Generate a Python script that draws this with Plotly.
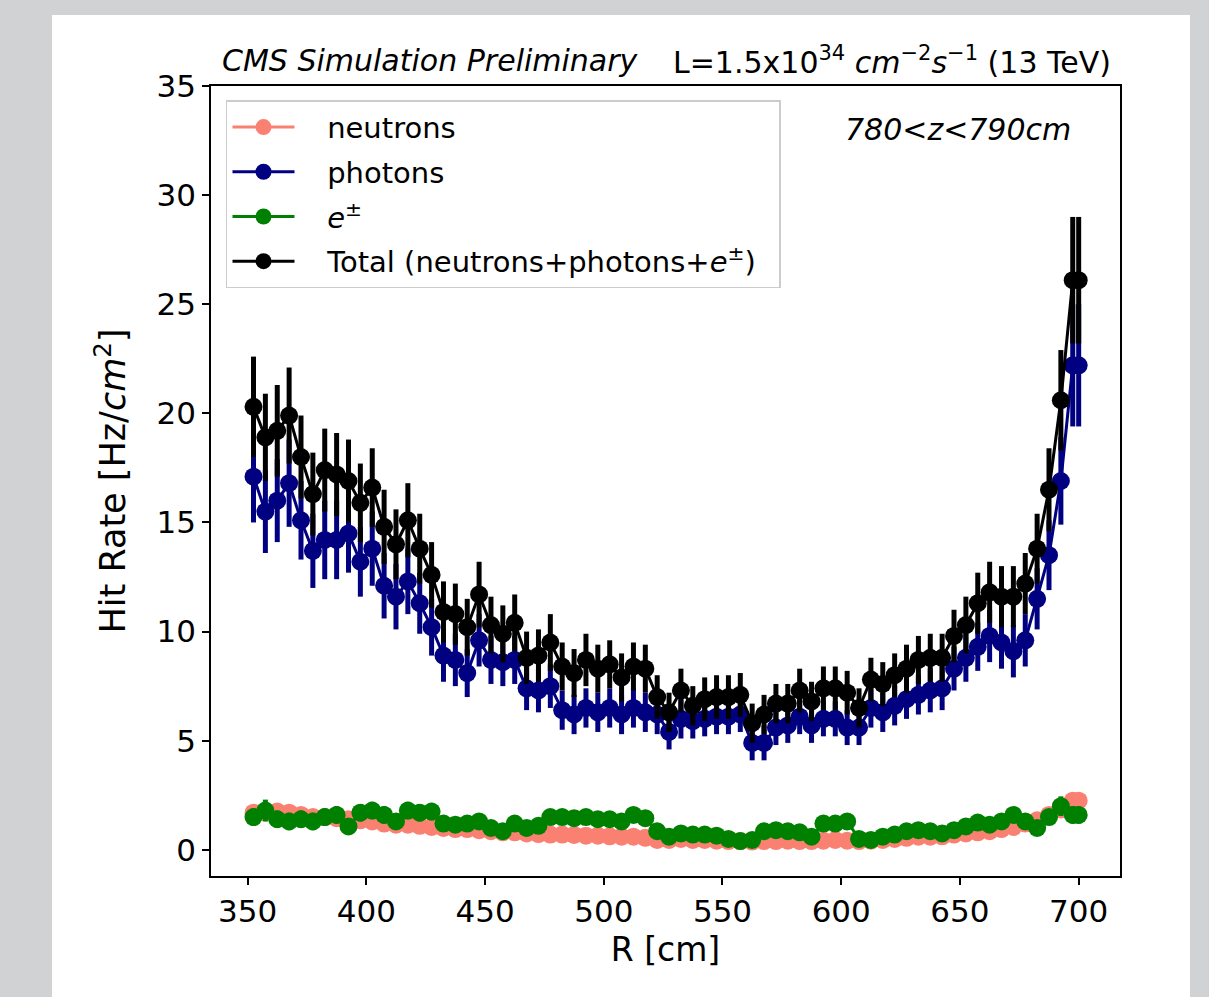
import plotly.graph_objects as go

# ---------------- data ----------------
R = [352.5 + 5 * i for i in range(70)] + [700.0]

neutrons = [1.7, 1.7, 1.75, 1.7, 1.6, 1.5, 1.5, 1.45, 1.4, 1.35,
            1.3, 1.2, 1.15, 1.15, 1.1, 1.05, 1.0, 0.95, 0.95, 0.9,
            0.85, 0.8, 0.8, 0.75, 0.72, 0.7, 0.7, 0.68, 0.65, 0.65,
            0.62, 0.6, 0.6, 0.55, 0.45, 0.45, 0.5, 0.45, 0.45, 0.42,
            0.4, 0.4, 0.38, 0.4, 0.4, 0.42, 0.4, 0.4, 0.42, 0.45,
            0.42, 0.4, 0.42, 0.45, 0.5, 0.55, 0.6, 0.6, 0.62, 0.7,
            0.75, 0.8, 0.85, 0.95, 1.05, 1.2, 1.35, 1.6, 1.85, 2.25,
            2.25]
neutrons_err = [0.15] * 71

photons = [17.1, 15.5, 16.0, 16.8, 15.1, 13.7, 14.2, 14.2, 14.5, 13.2,
           13.8, 12.1, 11.6, 12.3, 11.3, 10.2, 8.9, 8.7, 8.1, 9.6,
           8.7, 8.6, 8.7, 7.4, 7.3, 7.5, 6.4, 6.2, 6.5, 6.3,
           6.5, 6.2, 6.5, 6.3, 6.2, 5.4, 6.0, 5.9, 6.0, 6.1,
           6.1, 6.2, 4.9, 4.9, 5.6, 5.7, 6.1, 5.7, 6.0, 6.0,
           5.6, 5.6, 6.5, 6.3, 6.6, 6.9, 7.1, 7.3, 7.4, 8.3,
           8.8, 9.3, 9.8, 9.5, 9.1, 9.6, 11.5, 13.5, 16.9, 22.2,
           22.2]
photons_err = [2.1, 1.9, 1.9, 2.0, 1.8, 1.7, 1.8, 1.8, 1.8, 1.6,
               1.7, 1.5, 1.5, 1.5, 1.4, 1.3, 1.2, 1.2, 1.1, 1.2,
               1.1, 1.1, 1.1, 1.0, 1.0, 1.0, 0.9, 0.9, 0.9, 0.9,
               0.9, 0.9, 0.9, 0.9, 0.9, 0.8, 0.9, 0.8, 0.8, 0.8,
               0.8, 0.8, 0.8, 0.8, 0.8, 0.8, 0.8, 0.8, 0.8, 0.8,
               0.8, 0.8, 0.9, 0.9, 0.9, 0.9, 0.9, 1.0, 1.0, 1.0,
               1.1, 1.1, 1.2, 1.2, 1.2, 1.2, 1.4, 1.6, 2.0, 2.8,
               2.8]

electrons = [1.5, 1.8, 1.4, 1.3, 1.4, 1.3, 1.5, 1.6, 1.07, 1.7,
             1.8, 1.6, 1.3, 1.8, 1.7, 1.75, 1.2, 1.15, 1.2, 1.3,
             1.0, 0.85, 1.2, 1.0, 1.1, 1.5, 1.5, 1.45, 1.5, 1.4,
             1.4, 1.3, 1.6, 1.45, 0.85, 0.6, 0.75, 0.7, 0.7, 0.65,
             0.5, 0.4, 0.45, 0.85, 0.9, 0.85, 0.8, 0.6, 1.2, 1.2,
             1.3, 0.5, 0.45, 0.6, 0.7, 0.85, 0.9, 0.85, 0.75, 0.9,
             1.07, 1.25, 1.15, 1.3, 1.6, 1.3, 1.0, 1.5, 2.0, 1.6,
             1.6]
electrons_err = [0.4, 0.5, 0.4, 0.4, 0.4, 0.4, 0.4, 0.4, 0.35, 0.4,
                 0.4, 0.4, 0.35, 0.4, 0.4, 0.4, 0.35, 0.35, 0.35, 0.35,
                 0.3, 0.3, 0.35, 0.3, 0.3, 0.35, 0.35, 0.35, 0.35, 0.35,
                 0.35, 0.35, 0.35, 0.35, 0.3, 0.25, 0.25, 0.25, 0.25, 0.25,
                 0.25, 0.2, 0.2, 0.25, 0.25, 0.25, 0.25, 0.25, 0.3, 0.3,
                 0.3, 0.2, 0.2, 0.25, 0.25, 0.25, 0.25, 0.25, 0.25, 0.25,
                 0.3, 0.3, 0.3, 0.3, 0.35, 0.3, 0.3, 0.35, 0.45, 0.4,
                 0.4]

total = [20.3, 18.9, 19.2, 19.9, 18.0, 16.3, 17.4, 17.2, 16.9, 15.9,
         16.6, 14.8, 14.0, 15.1, 13.8, 12.6, 10.9, 10.8, 10.2, 11.7,
         10.3, 9.9, 10.4, 8.8, 8.9, 9.5, 8.4, 8.1, 8.7, 8.3,
         8.5, 7.9, 8.4, 8.3, 7.0, 6.3, 7.3, 6.6, 6.9, 7.0,
         7.0, 7.1, 5.8, 6.2, 6.7, 6.7, 7.3, 6.8, 7.4, 7.4,
         7.2, 6.5, 7.8, 7.6, 8.0, 8.3, 8.7, 8.8, 8.8, 9.8,
         10.3, 11.3, 11.8, 11.6, 11.6, 12.2, 13.8, 16.5, 20.6, 26.1,
         26.1]
total_err = [2.3, 2.0, 2.1, 2.2, 1.9, 1.9, 1.9, 1.9, 1.9, 1.8,
             1.8, 1.7, 1.6, 1.7, 1.6, 1.5, 1.4, 1.4, 1.3, 1.5,
             1.3, 1.3, 1.3, 1.2, 1.2, 1.3, 1.1, 1.1, 1.2, 1.1,
             1.1, 1.1, 1.1, 1.1, 1.0, 0.9, 1.0, 0.9, 1.0, 1.0,
             1.0, 1.0, 0.9, 0.9, 0.9, 0.9, 1.0, 0.9, 1.0, 1.0,
             1.0, 0.9, 1.0, 1.0, 1.0, 1.1, 1.1, 1.1, 1.1, 1.2,
             1.3, 1.4, 1.4, 1.4, 1.4, 1.4, 1.6, 1.9, 2.3, 2.9,
             2.9]

x_ticks = [350, 400, 450, 500, 550, 600, 650, 700]
y_ticks = [0, 5, 10, 15, 20, 25, 30, 35]

# ---------------- figure ----------------
FONT = "DejaVu Sans"
PAD = "\u00a0\u00a0\u00a0"
series = [
    ("neutrons", neutrons, neutrons_err, "#fa8072"),
    ("photons", photons, photons_err, "#000080"),
    ("<i>e</i><sup>±</sup>", electrons, electrons_err, "#008000"),
    ("Total (neutrons+photons+<i>e</i><sup>±</sup>)\u00a0\u00a0", total, total_err, "#000000"),
]

fig = go.Figure()
for k, (name, vals, errs, col) in enumerate(series):
    fig.add_trace(go.Scatter(
        x=R, y=vals, name=PAD + name, mode="lines+markers",
        legendgroup="g%d" % k,
        line=dict(color=col, width=3),
        marker=dict(color=col, size=18, line=dict(width=0)),
        error_y=dict(type="data", array=errs, visible=True,
                     color=col, thickness=5, width=0),
    ))

axis_common = dict(
    showline=True, linecolor="black", linewidth=1.5, mirror=True,
    ticks="outside", ticklen=7, tickwidth=1.5, tickcolor="black",
    showgrid=False, zeroline=False,
    tickfont=dict(family=FONT, size=31, color="black"),
)

fig.update_layout(
    width=1209, height=997,
    margin=dict(l=211, r=89, t=86, b=121),
    paper_bgcolor="#d0d2d4",
    plot_bgcolor="white",
    font=dict(family=FONT, color="black"),
    xaxis=dict(range=[334.6, 717.4], tickvals=x_ticks,
               title=dict(text="R [cm]", font=dict(size=33), standoff=10),
               **axis_common),
    yaxis=dict(range=[-1.2, 35], tickvals=y_ticks,
               title=dict(text="Hit Rate [Hz/<i>cm</i><sup>2</sup>]", font=dict(size=35), standoff=20),
               **axis_common),
    legend=dict(x=0.0165, y=0.982, xanchor="left", yanchor="top",
                bgcolor="rgba(255,255,255,0.8)", bordercolor="#cccccc", borderwidth=1.5,
                font=dict(family=FONT, size=29, color="black"),
                itemwidth=62, tracegroupgap=4),
    showlegend=True,
    shapes=[dict(type="rect", xref="paper", yref="paper",
                 x0=(52 - 211) / 909, x1=(1190 - 211) / 909,
                 y0=-0.2, y1=(876 - 15) / 790,
                 fillcolor="white", line=dict(width=0), layer="below")],
    annotations=[
        dict(text="<i>CMS Simulation Preliminary</i>", xref="paper", yref="paper",
             x=0.0099, y=(876 - 60) / 790, xanchor="left", yanchor="middle",
             showarrow=False, font=dict(family=FONT, size=30)),
        dict(text="L=1.5x10<sup>34</sup> <i>cm</i><sup>−2</sup><i>s</i><sup>−1</sup> (13 TeV)",
             xref="paper", yref="paper",
             x=0.992, y=(876 - 60) / 790, xanchor="right", yanchor="middle",
             showarrow=False, font=dict(family=FONT, size=30)),
        dict(text="<i>780<z<790cm</i>", xref="paper", yref="paper",
             x=0.948, y=(876 - 130) / 790, xanchor="right", yanchor="middle",
             showarrow=False, font=dict(family=FONT, size=30)),
    ],
)

fig.write_html("out.html", config={"displayModeBar": False},
               post_script="document.body.style.margin='0';")
